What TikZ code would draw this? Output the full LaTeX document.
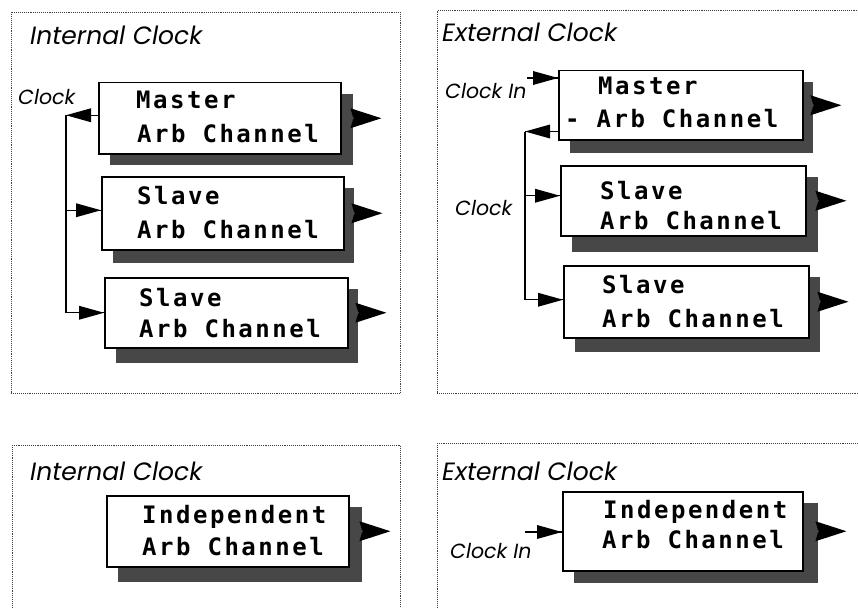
\documentclass[tikz,border=0pt]{standalone}
\usepackage{fontspec}
\setmainfont{Poppins}
\newfontfamily\monof[LetterSpace=10.5]{DejaVu Sans Mono Bold}
\usetikzlibrary{arrows.meta}

\tikzset{
 frame/.style={draw=black!75, densely dotted, line width=0.9pt, rectangle, inner sep=0, anchor=north west},
 chanbox/.style={draw=black, line width=1.5pt, fill=white, inner sep=0, rectangle},
 shadebox/.style={fill=black!72, inner sep=0, rectangle},
 chantext/.style={font=\monof\fontsize{24}{24}\selectfont, anchor=base west, inner sep=0},
 paneltitle/.style={font=\itshape\fontsize{25}{25}\selectfont, anchor=base west, inner sep=0},
 clocklabel/.style={font=\itshape\fontsize{20.5}{20.5}\selectfont, anchor=base west, inner sep=0},
 wire/.style={line width=1.4pt, draw=black},
 headfill/.style={fill=black},
 outtip/.style={fill=black},
}

% arrow head pointing right, tip at #1
\newcommand\headR[1]{\fill[headfill] (#1) -- ++(-25,-7) -- ++(0,14) -- cycle;}
% arrow head pointing left, tip at #1
\newcommand\headL[1]{\fill[headfill] (#1) -- ++(25,-7) -- ++(0,14) -- cycle;}

\newcommand\mkchan[7]{%
  \node[shadebox, anchor=north west, minimum width={#6-#2-12}, minimum height={#7-#3-12}] (#1s) at (#2+12,#3+12) {};
  \node[chanbox, anchor=north west, minimum width={#4-#2}, minimum height={#5-#3}] (#1) at (#2,#3) {};
  \fill[outtip] (#1s.east |- #1.center) ++(-3,-10) -- ++(31,10) coordinate (#1o) -- ++(-31,10) -- ++(3,-10) -- cycle;
}

\begin{document}
\begin{tikzpicture}[x=1pt,y=-1pt]
\useasboundingbox (0,0) rectangle (858,607);

% ---------- top left ----------
\node[frame, minimum width=389, minimum height=381] (tlF) at (11,12) {};
\node[paneltitle] (tlT) at (30,45) {Internal Clock};
\mkchan{tlM}{98}{82}{340}{153}{353}{165}
\mkchan{tlA}{101}{176}{343}{249}{354}{263}
\mkchan{tlB}{104}{277}{347}{347}{358}{363}
\node[chantext] (tlMt1) at (136,108) {Master};
\node[chantext] (tlMt2) at (137,142) {Arb Channel};
\node[chantext] (tlAt1) at (137,204) {Slave};
\node[chantext] (tlAt2) at (137,238) {Arb Channel};
\node[chantext] (tlBt1) at (139,306) {Slave};
\node[chantext] (tlBt2) at (139,337) {Arb Channel};
\node[clocklabel] (tlC) at (18,104) {Clock};
\coordinate (tlMo) at ([yshift=3pt]tlM.west);
\coordinate (tlJ) at ([xshift=-32pt]tlMo);
\coordinate (tlAi) at ([yshift=3pt]tlA.west);
\coordinate (tlBi) at (tlB.west);
\draw[wire] (tlMo) -- (tlJ); \headL{tlJ}
\draw[wire] (tlJ) |- (tlAi); \headR{tlAi}
\draw[wire] (tlJ) |- (tlBi); \headR{tlBi}

% ---------- top right ----------
\node[frame, minimum width=425, minimum height=383] (trF) at (437,10) {};
\node[paneltitle] (trT) at (442,42) {External Clock};
\mkchan{trM}{558}{70}{802}{139}{813}{153}
\mkchan{trA}{560}{165}{805}{235}{818}{252}
\mkchan{trB}{563}{265}{808}{337}{820}{352}
\node[chantext] (trMt1) at (598,95) {Master};
\node[chantext] (trMt2) at (565,128) {- Arb Channel};
\node[chantext] (trAt1) at (600,199) {Slave};
\node[chantext] (trAt2) at (600,229) {Arb Channel};
\node[chantext] (trBt1) at (602,293) {Slave};
\node[chantext] (trBt2) at (602,327) {Arb Channel};
\node[clocklabel] (trCin) at (445,99) {Clock In};
\coordinate (trCinEnd) at (527,78);
\coordinate (trMi) at (trCinEnd -| trM.west);
\draw[wire] (trCinEnd) -- (trMi); \headR{trMi}
\coordinate (trMo) at ([yshift=9pt]trM.south west);
\coordinate (trJ) at ([xshift=-33pt]trMo);
\coordinate (trAi) at ([yshift=5pt]trA.west);
\coordinate (trBi) at ([yshift=2pt]trB.west);
\draw[wire] (trMo) -- (trJ); \headL{trJ}
\draw[wire] (trJ) |- (trAi); \headR{trAi}
\draw[wire] (trJ) |- (trBi); \headR{trBi}
\node[clocklabel] (trC) at (455,215) {Clock};

% ---------- bottom left ----------
\node[frame, minimum width=388, minimum height=180] (blF) at (12,445) {};
\node[paneltitle] (blT) at (30,480) {Internal Clock};
\mkchan{blX}{106}{495}{348}{566}{362}{582}
\node[chantext] (blXt1) at (142,523) {Independent};
\node[chantext] (blXt2) at (142,555) {Arb Channel};

% ---------- bottom right ----------
\node[frame, minimum width=425, minimum height=182] (brF) at (437,443) {};
\node[paneltitle] (brT) at (442,480) {External Clock};
\mkchan{brX}{562}{491}{802}{570}{818}{583}
\node[chantext] (brXt1) at (603,518) {Independent};
\node[chantext] (brXt2) at (602,548) {Arb Channel};
\node[clocklabel] (brCin) at (450,558) {Clock In};
\coordinate (brCinEnd) at (525,532);
\coordinate (brXi) at (brCinEnd -| brX.west);
\draw[wire] (brCinEnd) -- (brXi); \headR{brXi}
\end{tikzpicture}
\end{document}
